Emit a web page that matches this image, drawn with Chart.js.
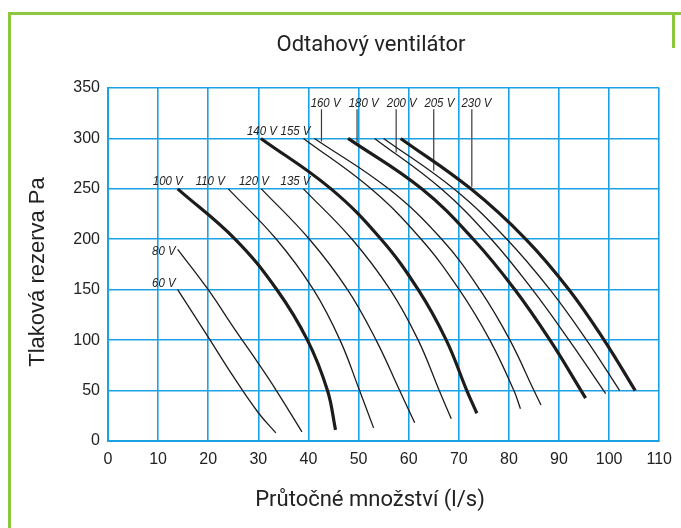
<!DOCTYPE html>
<html>
<head>
<meta charset="utf-8">
<script src="https://cdn.jsdelivr.net/npm/chart.js@4.4.1/dist/chart.umd.min.js"></script>
<style>
  html, body { margin: 0; padding: 0; background: #fff; }
</style>
</head>
<body>
<canvas id="fanChart" width="681" height="528"></canvas>
<script>
// fan curves: [flow l/s, pressure Pa]
const v60  = [[13.9,150],[20,103],[25,64],[30,28],[33.5,8]];
const v80  = [[13.9,190],[20,150],[25,113],[30,77],[33.6,50],[38.7,9]];
const v100 = [[13.9,250],[25.4,200],[33.7,150],[39.8,100],[43.8,50],[45.4,11]];
const v110 = [[24,250],[33.6,200],[41,150],[46.3,100],[50.2,50],[53,13]];
const v120 = [[30.6,250],[40.2,200],[47.8,150],[53.5,100],[58.2,50],[61.2,18]];
const v135 = [[39,250],[48.7,200],[56.3,150],[61.9,100],[66.1,50],[68.5,22]];
const v140 = [[30.5,300],[44.5,250],[54.5,200],[61.9,150],[67.5,100],[71.6,50],[73.6,27.5]];
const v155 = [[39,300],[52.5,250],[62.5,200],[70.1,150],[76.2,100],[81,50],[82.3,32]];
const v160 = [[41.2,300],[56,250],[66.6,200],[74.2,150],[80.2,100],[85,50],[86.4,35.7]];
const v180 = [[47.9,300],[62.6,250],[72.9,200],[81.2,150],[88.2,100],[94.4,50],[95.3,42.5]];
const v200 = [[53.2,300],[66.5,250],[76.5,200],[84.7,150],[92,100],[98.9,50],[99.3,47]];
const v205 = [[55,300],[69,250],[79.6,200],[88.2,150],[95.5,100],[102.1,50]];
const v230 = [[58.4,300],[72.4,250],[83.4,200],[92,150],[99,100],[105.2,50]];

const voltages = ['60 V','80 V','100 V','110 V','120 V','135 V','140 V','155 V','160 V','180 V','200 V','205 V','230 V'];
const curves = [v60, v80, v100, v110, v120, v135, v140, v155, v160, v180, v200, v205, v230];
const boldVoltages = ['100 V','140 V','180 V','230 V'];

// where each voltage label sits (right end of text, baseline), in axis units
const labelFlow     = [13.5, 13.5, 14.9, 23.3, 32.1, 40.4, 33.7, 40.4, 46.4, 54, 61.6, 69.1, 76.5];
const labelPressure = [152.7, 184.4, 253.8, 253.8, 253.8, 253.8, 303.4, 303.4, 331, 331, 331, 331, 331];

// leader lines from the top row of labels down to their curves
const leaderFlow   = [42.6, 49.7, 57.5, 65, 72.6];
const leaderTop    = 329;
const leaderBottom = [297, 296, 286, 268, 252];

const xTicksMax = 110, yTicksMax = 350;

const gridBlue = '#1ca2e4';
const ink = '#1c1c1c';

const datasets = curves.map((pts, i) => ({
  label: voltages[i],
  data: pts.map(p => ({ x: p[0], y: p[1] })),
  borderColor: ink,
  borderWidth: boldVoltages.includes(voltages[i]) ? 3.2 : 1.3,
  pointRadius: 0,
  fill: false,
  tension: 0.4
}));

leaderFlow.forEach((x, i) => {
  datasets.push({
    label: 'leader' + i,
    data: [{ x: x, y: leaderTop }, { x: x, y: leaderBottom[i] }],
    borderColor: '#3a3a3a',
    borderWidth: 1.2,
    pointRadius: 0,
    fill: false
  });
});

// green frame round the picture
const framePlugin = {
  id: 'frame',
  beforeDraw(chart){
    const c = chart.ctx;
    c.save();
    c.strokeStyle = '#8dc63f';
    c.lineWidth = 3;
    c.beginPath();
    c.moveTo(9.5, 528); c.lineTo(9.5, 13.5); c.lineTo(681, 13.5);
    c.moveTo(673.5, 13.5); c.lineTo(673.5, 48);
    c.stroke();
    c.restore();
  }
};

// chart title and axis titles
const titles = {
  id: 'titles',
  afterDraw(chart){
    const c = chart.ctx;
    c.save();
    c.fillStyle = '#222';
    c.textAlign = 'center';
    c.textBaseline = 'middle';
    c.font = '22px Roboto, sans-serif';
    c.fillText('Odtahový ventilátor', 371, 45);
    c.fillText('Průtočné množství (l/s)', 370, 500);
    c.translate(38, 272);
    c.rotate(-Math.PI / 2);
    c.font = '22px "Liberation Sans", Arial, sans-serif';
    c.fillText('Tlaková rezerva Pa', 0, 0);
    c.restore();
  }
};

const voltLabels = {
  id: 'voltLabels',
  afterDatasetsDraw(chart){
    const c = chart.ctx, xs = chart.scales.x, ys = chart.scales.y;
    c.save();
    c.fillStyle = '#222';
    c.font = 'italic 13px "Liberation Sans", Arial, sans-serif';
    c.textAlign = 'right';
    c.textBaseline = 'alphabetic';
    voltages.forEach((t, i) => {
      const px = xs.getPixelForValue(labelFlow[i]);
      const py = ys.getPixelForValue(labelPressure[i]);
      c.save();
      c.translate(px, py);
      c.scale(0.88, 1);
      c.fillText(t, 0, 0);
      c.restore();
    });
    c.restore();
  }
};

new Chart(document.getElementById('fanChart').getContext('2d'), {
  type: 'line',
  data: { datasets },
  plugins: [framePlugin, voltLabels, titles],
  options: {
    responsive: false,
    animation: false,
    layout: { padding: { left: 0, right: 20, top: 88, bottom: 0 } },
    plugins: {
      legend: { display: false },
      tooltip: { enabled: false },
      title: { display: false }
    },
    scales: {
      x: {
        type: 'linear', min: 0, max: xTicksMax,
        ticks: { stepSize: 10, color: '#222', padding: 9, font: { family: 'Liberation Sans', size: 16 } },
        grid: { color: gridBlue, lineWidth: 1.6, drawTicks: false },
        border: { color: gridBlue, width: 2 },
        afterFit(s){ s.height = 87; }
      },
      y: {
        type: 'linear', min: 0, max: yTicksMax,
        ticks: { stepSize: 50, color: '#222', padding: 8, font: { family: 'Liberation Sans', size: 16 } },
        grid: { color: gridBlue, lineWidth: 1.6, drawTicks: false },
        border: { color: gridBlue, width: 2 },
        afterFit(s){ s.width = 108; }
      }
    }
  }
});
</script>
</body>
</html>
